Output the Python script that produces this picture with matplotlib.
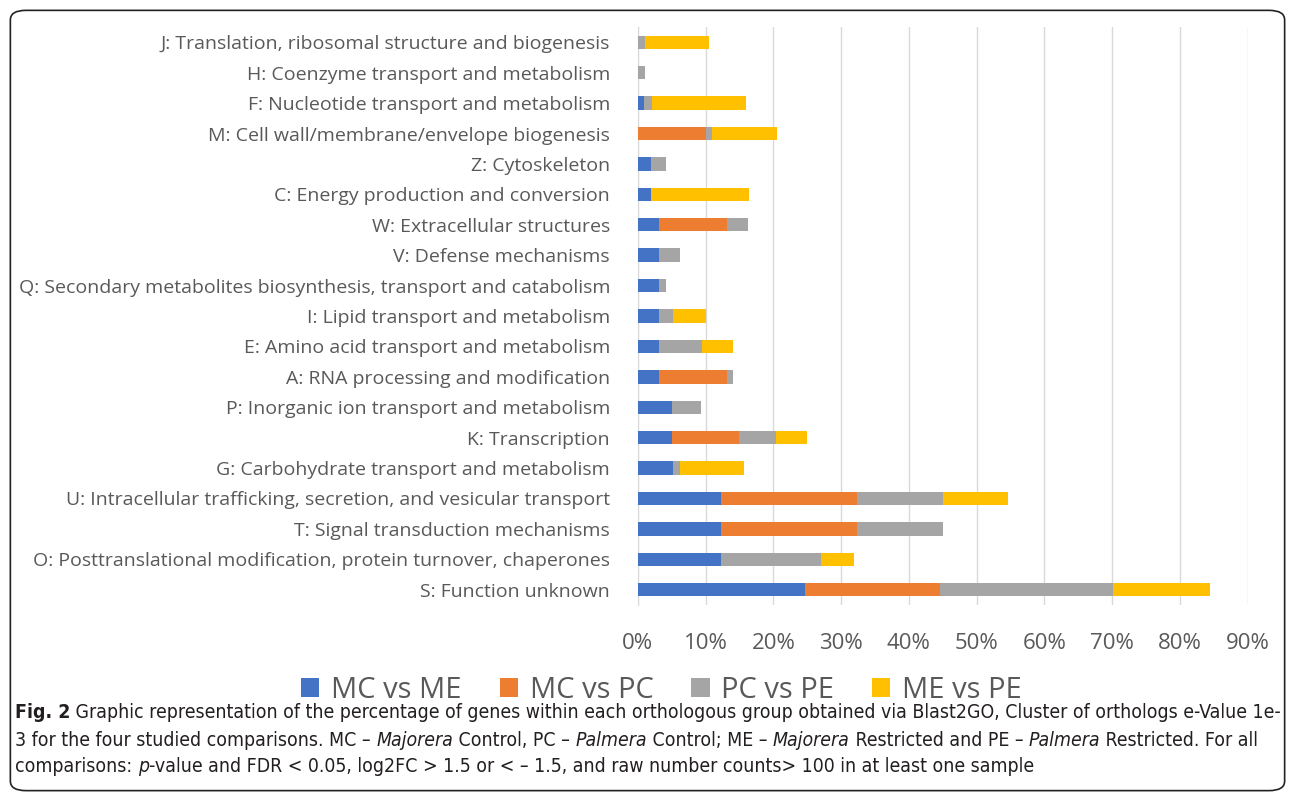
import matplotlib.pyplot as plt
import numpy as np
from matplotlib.patches import FancyBboxPatch
from matplotlib.ticker import PercentFormatter

# categories top to bottom, as in the figure
categories = [
    'J: Translation, ribosomal structure and biogenesis',
    'H: Coenzyme transport and metabolism',
    'F: Nucleotide transport and metabolism',
    'M: Cell wall/membrane/envelope biogenesis',
    'Z: Cytoskeleton',
    'C: Energy production and conversion',
    'W: Extracellular structures',
    'V: Defense mechanisms',
    'Q: Secondary metabolites biosynthesis, transport and catabolism',
    'I: Lipid transport and metabolism',
    'E: Amino acid transport and metabolism',
    'A: RNA processing and modification',
    'P: Inorganic ion transport and metabolism',
    'K: Transcription',
    'G: Carbohydrate transport and metabolism',
    'U: Intracellular trafficking, secretion, and vesicular transport',
    'T: Signal transduction mechanisms',
    'O: Posttranslational modification, protein turnover, chaperones',
    'S: Function unknown',
]
series_names = ['MC vs ME', 'MC vs PC', 'PC vs PE', 'ME vs PE']
mc_me = [0, 0, 0.9, 0, 2.0, 2.0, 3.1, 3.1, 3.1, 3.1, 3.1, 3.1, 5.1, 5.1, 5.2, 12.3, 12.3, 12.3, 24.6]
mc_pc = [0, 0, 0, 10.0, 0, 0, 10.0, 0, 0, 0, 0, 10.0, 0, 9.9, 0, 20.0, 20.0, 0, 20.0]
pc_pe = [1.1, 1.1, 1.2, 1.0, 2.2, 0, 3.1, 3.1, 1.0, 2.1, 6.4, 1.0, 4.2, 5.4, 1.1, 12.7, 12.7, 14.8, 25.5]
me_pe = [9.4, 0, 13.9, 9.5, 0, 14.4, 0, 0, 0, 4.8, 4.6, 0, 0, 4.6, 9.4, 9.6, 0, 4.8, 14.3]
colors = ['#4472C4', '#ED7D31', '#A5A5A5', '#FFC000']

txt = '#595959'
font = ['Open Sans', 'DejaVu Sans']
fig = plt.figure(figsize=(12.95, 7.97), dpi=100)

# rounded frame around the figure panel
fig.patches.append(FancyBboxPatch((0.008, 0.008), 0.984, 0.979, boxstyle='round,pad=0,rounding_size=0.012',
                                  transform=fig.transFigure, fill=False, edgecolor='#222222', linewidth=1.2))

ax = fig.add_axes([0.4925, 0.241, 0.471, 0.725])
y = np.arange(len(categories))
left = np.zeros(len(categories))
for name, vals, c in zip(series_names, [mc_me, mc_pc, pc_pe, me_pe], colors):
    ax.barh(y, vals, left=left, height=0.44, color=c, label=name, zorder=3)
    left += np.array(vals)

ax.set_ylim(len(categories) - 0.5, -0.5)
ax.set_xlim(0, 90)
ax.set_xticks(np.arange(0, 91, 10))
ax.xaxis.set_major_formatter(PercentFormatter(decimals=0))
ax.set_yticks(y)
ax.set_yticklabels(categories, family=font, fontsize=14, color=txt)
ax.tick_params(axis='y', length=0, pad=20)
ax.tick_params(axis='x', length=0, pad=20, labelsize=16, labelcolor=txt)
for lab in ax.get_xticklabels():
    lab.set_family(font)
ax.grid(axis='x', color='#D9D9D9', linewidth=1, zorder=0)
for s in ['top', 'right', 'bottom']:
    ax.spines[s].set_visible(False)
ax.spines['left'].set_color('#D9D9D9')

fig.legend(loc='center', bbox_to_anchor=(0.511, 0.134), ncol=4, frameon=False,
           prop={'family': font, 'size': 21}, labelcolor=txt,
           handlelength=0.62, handleheight=0.62, handletextpad=0.41, columnspacing=1.3)

# caption with mixed bold / italic pieces
cap_lines = [
    [('Fig. 2', 'bold', 'normal'),
     (' Graphic representation of the percentage of genes within each orthologous group obtained via Blast2GO, Cluster of orthologs e-Value 1e-', 'normal', 'normal')],
    [('3 for the four studied comparisons. MC \u2013 ', 'normal', 'normal'), ('Majorera', 'normal', 'italic'),
     (' Control, PC \u2013 ', 'normal', 'normal'), ('Palmera', 'normal', 'italic'),
     (' Control; ME \u2013 ', 'normal', 'normal'), ('Majorera', 'normal', 'italic'),
     (' Restricted and PE \u2013 ', 'normal', 'normal'), ('Palmera', 'normal', 'italic'),
     (' Restricted. For all', 'normal', 'normal')],
    [('comparisons: ', 'normal', 'normal'), ('p', 'normal', 'italic'),
     ('-value and FDR < 0.05, log2FC > 1.5 or < \u2013 1.5, and raw number counts> 100 in at least one sample', 'normal', 'normal')],
]
cap_y = [1 - 712 / 797, 1 - 740 / 797, 1 - 767 / 797]
renderer = fig.canvas.get_renderer()


def draw_line(pieces, yy, size):
    x = 15 / 1295
    made = []
    for s, w, st in pieces:
        t = fig.text(x, yy, s, fontsize=size, weight=w, style=st, va='center', ha='left',
                     family=['DejaVu Sans'], stretch='condensed', color='#231F20')
        bb = t.get_window_extent(renderer=renderer)
        x += bb.width / fig.bbox.width
        made.append(t)
    return made, x


# fit the first caption line to the frame width
size = 13.5
made, xend = draw_line(cap_lines[0], cap_y[0], size)
for t in made:
    t.remove()
size = size * (1262 / 1295) / (xend - 15 / 1295)
for pieces, yy in zip(cap_lines, cap_y):
    draw_line(pieces, yy, size)

fig.savefig('out.png', dpi=100)
